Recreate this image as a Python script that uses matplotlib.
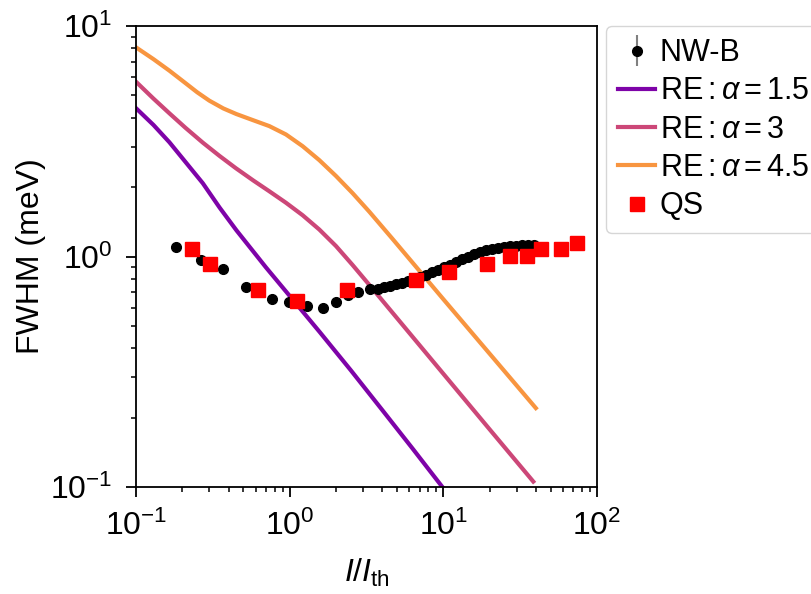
import numpy as np
import matplotlib
matplotlib.use("Agg")
from matplotlib import pyplot as plt

plt.rcParams['font.family'] = ['Liberation Sans', 'DejaVu Sans']
plt.rcParams['mathtext.fontset'] = 'custom'
plt.rcParams['mathtext.rm'] = 'Liberation Sans'
plt.rcParams['mathtext.it'] = 'Liberation Sans:italic'
plt.rcParams['mathtext.bf'] = 'Liberation Sans:bold'

# NW-B measured points
nwb_x = [0.182, 0.264, 0.368, 0.522, 0.770, 0.994, 1.29, 1.64, 1.99, 2.38, 2.79,
         3.31, 3.77, 4.11, 4.49, 4.92, 5.38, 5.89, 6.44, 7.04, 7.70, 8.43, 9.22,
         10.09, 11.04, 12.08, 13.21, 14.45, 15.81, 17.30, 18.93, 20.71, 22.66,
         24.79, 27.12, 29.67, 32.46, 35.52, 38.86]
nwb_y = [1.096, 0.963, 0.885, 0.738, 0.654, 0.633, 0.608, 0.598, 0.633, 0.679, 0.701,
         0.723, 0.725, 0.737, 0.748, 0.760, 0.771, 0.783, 0.795, 0.815, 0.835, 0.857, 0.878,
         0.900, 0.919, 0.947, 0.975, 1.000, 1.025, 1.046, 1.067, 1.083, 1.094,
         1.105, 1.111, 1.116, 1.122, 1.122, 1.122]
nwb_err = np.full(len(nwb_y), 0.02)

# QS points
qs_x = [0.230, 0.303, 0.620, 1.12, 2.35, 6.60, 10.87, 19.13, 27.24, 35.2, 43.2, 58.5, 73.7]
qs_y = [1.078, 0.931, 0.716, 0.643, 0.716, 0.788, 0.859, 0.931, 1.005, 1.005, 1.075, 1.075, 1.148]

# RE curves
re15_x = [0.1, 0.13, 0.165, 0.21, 0.272, 0.35, 0.45, 0.7, 1.083, 1.574, 2.5, 4.0, 6.3, 9.94, 20, 40]
re15_y = [4.40, 3.72, 3.13, 2.57, 2.08, 1.63, 1.30, 0.898, 0.633, 0.469, 0.321, 0.216, 0.147, 0.0993, 0.054, 0.0296]

re3_x = [0.1, 0.13, 0.165, 0.21, 0.272, 0.35, 0.447, 0.58, 0.737, 0.946, 1.215, 1.558, 2.0, 2.57,
         3.3, 3.87, 10.0, 20, 38.5]
re3_y = [5.73, 4.84, 4.18, 3.616, 3.12, 2.73, 2.415, 2.137, 1.919, 1.711, 1.51, 1.31, 1.111, 0.918,
         0.753, 0.663, 0.310, 0.178, 0.1056]

re45_x = [0.1, 0.13, 0.165, 0.21, 0.25, 0.3, 0.37, 0.45, 0.58, 0.737, 0.946, 1.215, 1.558, 2.0,
          2.57, 3.3, 4.61, 7.04, 9.98, 20, 40.0]
re45_y = [8.08, 7.18, 6.40, 5.65, 5.16, 4.745, 4.39, 4.15, 3.90, 3.68, 3.385, 3.01, 2.62, 2.237,
          1.882, 1.564, 1.205, 0.862, 0.654, 0.379, 0.220]

cmap = plt.cm.plasma

fig = plt.figure(figsize=(8.12, 5.94), dpi=100)
ax = fig.add_axes([0.1675, 0.1801, 0.5677, 0.7761])

l1, = ax.plot(re15_x, re15_y, color=cmap(0.25), lw=3, label=r'RE$:\alpha=1.5$')
l2, = ax.plot(re3_x, re3_y, color=cmap(0.5), lw=3, label=r'RE$:\alpha=3$')
l3, = ax.plot(re45_x, re45_y, color=cmap(0.75), lw=3, label=r'RE$:\alpha=4.5$')
eb = ax.errorbar(nwb_x, nwb_y, yerr=nwb_err, fmt='o', color='black', ecolor='gray',
                 markersize=7, label='NW-B', zorder=3)
qs, = ax.plot(qs_x, qs_y, 's', color='red', markersize=9.5, label='QS', zorder=4)

ax.set_xscale('log')
ax.set_yscale('log')
ax.set_xlim(0.1, 100)
ax.set_ylim(0.1, 10)

ax.set_xlabel(r'$I/I_{\rm th}$', fontsize=23, labelpad=11)
ax.set_ylabel('FWHM (meV)', fontsize=23, labelpad=3)
ax.tick_params(axis='both', which='major', labelsize=23, length=7, width=1.3, direction='out')
ax.tick_params(axis='x', which='major', pad=10)
ax.tick_params(axis='y', which='major', pad=10)
ax.tick_params(axis='both', which='minor', length=3.5, width=1.1, direction='out')
for s in ax.spines.values():
    s.set_linewidth(1.3)

ax.legend(handles=[eb, l1, l2, l3, qs], loc='upper left', bbox_to_anchor=(1.02, 1.0),
          borderaxespad=0, fontsize=22, handlelength=1.2, handletextpad=0.15,
          labelspacing=0.27, borderpad=0.4)

fig.savefig('out.png', dpi=100)
